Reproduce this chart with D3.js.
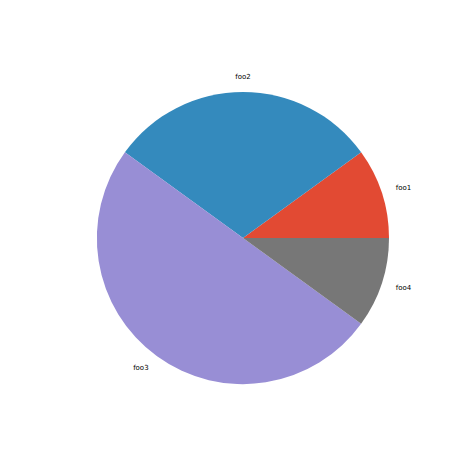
<!DOCTYPE html>
<html><head><meta charset="utf-8">
<script src="https://cdn.jsdelivr.net/npm/d3@7"></script>
<style>body{margin:0;background:#fff}</style>
</head><body>
<svg id="c" width="474" height="472"></svg>
<script>
const categories = ["foo1","foo2","foo3","foo4"];
const values = [10,30,50,10];
const colors = ["#E24A33","#348ABD","#988ED5","#777777"];

const cx = 243, cy = 238, r = 146;
const svg = d3.select("#c");
const g = svg.append("g").attr("transform",`translate(${cx},${cy})`);
// matplotlib: start at 0 rad (east), counterclockwise
const pie = d3.pie().sort(null).value(d=>d.v)
  .startAngle(Math.PI/2).endAngle(Math.PI/2 - 2*Math.PI);
const data = pie(categories.map((c,i)=>({c, v:values[i], col:colors[i]})));
const arc = d3.arc().innerRadius(0).outerRadius(r);
g.selectAll("path").data(data).join("path")
  .attr("d",arc).attr("fill",d=>d.data.col);
g.selectAll("text").data(data).join("text")
  .each(function(d){
    const a = (d.startAngle+d.endAngle)/2; // d3 angle: 0 at top, clockwise
    const x = Math.sin(a)*r*1.1, y = -Math.cos(a)*r*1.1;
    const anchor = Math.abs(x) < 1 ? "middle" : (x>0 ? "start" : "end");
    d3.select(this).attr("x",x).attr("y",y)
      .attr("text-anchor",anchor).attr("dominant-baseline","middle")
      .attr("font-family","DejaVu Sans").attr("font-size","7px").attr("fill","#000")
      .text(d.data.c);
  });
</script>
</body></html>
